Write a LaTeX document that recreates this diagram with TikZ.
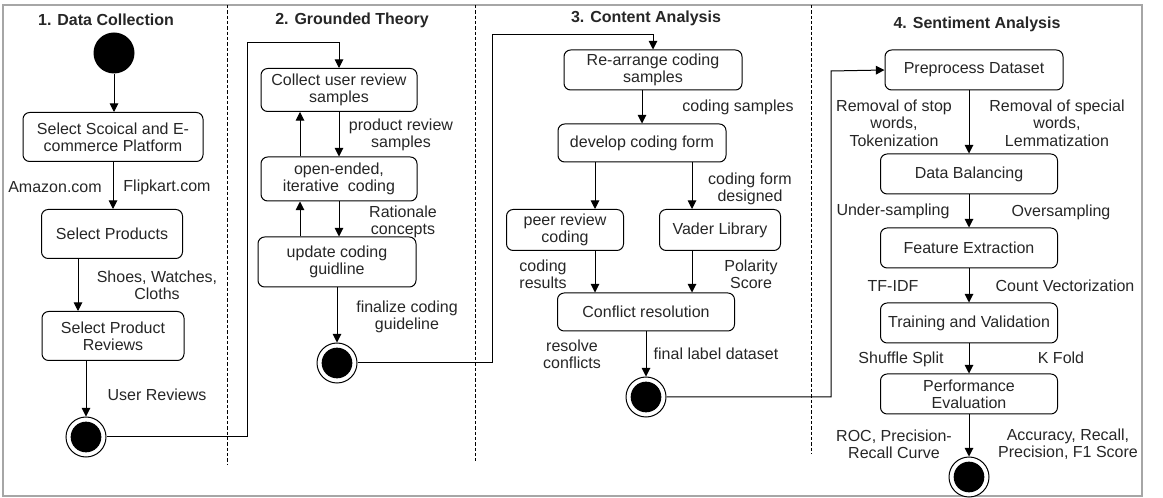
\documentclass[tikz,border=0pt]{standalone}
\usepackage{fontspec}
\setmainfont{Liberation Sans}
\usetikzlibrary{arrows.meta,calc}

\begin{document}
\begin{tikzpicture}[x=0.75pt, y=-0.75pt, >={Triangle[width=6.5pt,length=6.5pt]},
		font=\fontsize{12}{13}\selectfont, line width=0.75pt,
		box/.style={draw, rounded corners=5pt, align=center, inner sep=2pt, text=black!85},
		lbl/.style={align=center, inner sep=0pt, text=black!85},
		title/.style={font=\fontsize{12}{13}\selectfont\bfseries, text=black!85},
		startnode/.style={circle, fill=black, inner sep=0pt, minimum size=30.75pt},
		endnode/.style={circle, draw, fill=white, inner sep=0pt, minimum size=30pt,
			path picture={\fill[black] (path picture bounding box.center) circle (11.5pt);}},
		lane/.style={dash pattern=on 2.5pt off 1.5pt}]
		\useasboundingbox (0,0) rectangle (1163,498);
		\draw[gray!70, line width=0.9pt] (3,5) rectangle (1142,496);
		\draw[lane] (227,5) -- (227,465);
		\draw[lane] (475,5) -- (475,461);
		\draw[lane] (811,5) -- (811,454);

		% 1. data collection
		\node[title] (t1) at (106,20) {1. Data Collection};
		\node[startnode] (s1) at (114,53) {};
		\node[box, minimum width=135pt, minimum height=36.75pt] (plat) at (113,137) {Select Scoical and E-\\commerce Platform};
		\node[box, minimum width=105.75pt, minimum height=36.75pt] (prod) at (112,234) {Select Products};
		\node[box, minimum width=106.5pt, minimum height=36.75pt] (rev) at (113,336) {Select Product\\Reviews};
		\node[endnode] (e1) at (86,437) {};
		\node[lbl] (amazon) at (55,187) {Amazon.com};
		\node[lbl] (flip) at (167,187) {Flipkart.com};
		\node[lbl] (shoes) at (157,285) {Shoes, Watches,\\Cloths};
		\node[lbl] (users) at (157,395) {User Reviews};
		\draw[->] (s1) -- (plat.north -| s1);
		\draw[->] (plat.south -| 113,0) -- (prod.north -| 113,0);
		\draw[->] (prod.south -| 78,0) -- (rev.north -| 78,0);
		\draw[->] (rev.south -| e1) -- (e1);

		% 2. grounded theory
		\node[title] (t2) at (352,20) {2. Grounded Theory};
		\node[box, minimum width=117pt, minimum height=32.25pt] (coll) at (339,90) {Collect user review\\samples};
		\node[box, minimum width=117pt, minimum height=33pt] (open) at (339,179) {open-ended,\\iterative~~coding};
		\node[box, minimum width=118.5pt, minimum height=37.5pt] (upd) at (337,262) {update coding\\guidline};
		\node[endnode] (e2) at (337,363) {};
		\node[lbl] (prs) at (401,135) {product review\\samples};
		\node[lbl] (rat) at (403,222) {Rationale\\concepts};
		\node[lbl] (fin) at (407,317) {finalize coding\\guideline};
		\draw[->] (e1.east) -| (247,43) -| (coll.north);
		\draw[->] (coll.south) -- (open.north);
		\draw[->] (open.north -| 300,0) -- (coll.south -| 300,0);
		\draw[->] (open.south) -- (upd.north -| open.south);
		\draw[->] (upd.north -| 300,0) -- (open.south -| 300,0);
		\draw[->] (upd.south) -- (e2);

		% 3. content analysis
		\node[title] (t3) at (646,18) {3. Content Analysis};
		\node[box, minimum width=133.5pt, minimum height=30pt] (rearr) at (653,70) {Re-arrange coding\\samples};
		\node[box, minimum width=126pt, minimum height=28.5pt] (dev) at (642,143) {develop coding form};
		\node[box, minimum width=87.75pt, minimum height=30.75pt] (peer) at (565,230) {peer review\\coding};
		\node[box, minimum width=90.75pt, minimum height=30.75pt] (vader) at (720,230) {Vader Library};
		\node[box, minimum width=132.75pt, minimum height=28.5pt] (conf) at (646,312) {Conflict resolution};
		\node[endnode] (e3) at (646,397) {};
		\node[lbl] (cs) at (738,107) {coding samples};
		\node[lbl] (cfd) at (750,189) {coding form\\designed};
		\node[lbl] (cr) at (543,274) {coding\\results};
		\node[lbl] (pol) at (751,274) {Polarity\\Score};
		\node[lbl] (resc) at (572,354) {resolve\\conflicts};
		\node[lbl] (fld) at (716,354) {final label dataset};
		\draw[->] (e2.east) -| (492,35) -| (rearr.north);
		\draw[->] (rearr.south -| dev.north) -- (dev.north);
		\draw[->] (dev.south -| 595,0) -- (peer.north -| 595,0);
		\draw[->] (dev.south -| 692,0) -- (vader.north -| 692,0);
		\draw[->] (peer.south -| 595,0) -- (conf.north -| 595,0);
		\draw[->] (vader.south -| 692,0) -- (conf.north -| 692,0);
		\draw[->] (conf.south) -- (e3);

		% 4. sentiment analysis
		\node[title] (t4) at (977,24) {4. Sentiment Analysis};
		\node[box, minimum width=133.5pt, minimum height=30pt] (pre) at (974,70) {Preprocess Dataset};
		\node[box, minimum width=132.75pt, minimum height=30pt] (bal) at (969,174) {Data Balancing};
		\node[box, minimum width=132.75pt, minimum height=30pt] (feat) at (969,248) {Feature Extraction};
		\node[box, minimum width=132.75pt, minimum height=30pt] (train) at (969,323) {Training and Validation};
		\node[box, minimum width=132.75pt, minimum height=30pt] (perf) at (969,394) {Performance\\Evaluation};
		\node[endnode] (e4) at (969,477) {};
		\node[lbl] (stop) at (894,123) {Removal of stop\\words,\\Tokenization};
		\node[lbl] (spec) at (1057,123) {Removal of special\\words,\\Lemmatization};
		\node[lbl] (under) at (893,211) {Under-sampling};
		\node[lbl] (over) at (1061,212) {Oversampling};
		\node[lbl] (tfidf) at (893,286) {TF-IDF};
		\node[lbl] (count) at (1065,286) {Count Vectorization};
		\node[lbl] (shuf) at (901,359) {Shuffle Split};
		\node[lbl] (kfold) at (1061,358) {K Fold};
		\node[lbl] (roc) at (894,444) {ROC, Precision-\\Recall Curve};
		\node[lbl] (acc) at (1068,444) {Accuracy, Recall,\\Precision, F1 Score};
		\draw[->] (e3.east) -| (831,71) -- (pre.west);
		\draw[->] (pre.south -| bal.north) -- (bal.north);
		\draw[->] (bal.south) -- (feat.north);
		\draw[->] (feat.south) -- (train.north);
		\draw[->] (train.south) -- (perf.north);
		\draw[->] (perf.south) -- (e4);
	\end{tikzpicture}
\end{document}
